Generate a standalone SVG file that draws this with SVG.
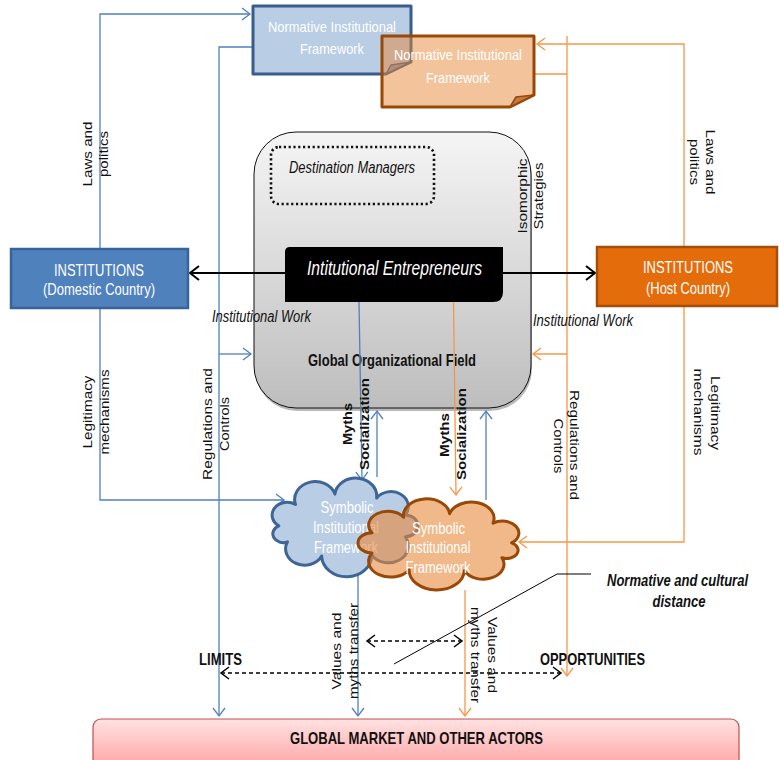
<svg xmlns="http://www.w3.org/2000/svg" width="779" height="760" viewBox="0 0 779 760">
<style>
.t{font-family:'Liberation Sans',Arial,Helvetica,sans-serif;fill:#111}
.w{fill:#fff}
.b{font-weight:bold}
.i{font-style:italic}
.r{font-size:12.5px}
.lb{stroke:#4f81bd;stroke-width:1.3;fill:none}
.lo{stroke:#f79646;stroke-width:1.3;fill:none}
.lk{stroke:#000;fill:none}
</style>
<defs>
<linearGradient id="gField" x1="0" y1="0" x2="0" y2="1"><stop offset="0" stop-color="#f5f5f5"/><stop offset="1" stop-color="#bdbdbd"/></linearGradient>
<linearGradient id="gMarket" x1="0" y1="0" x2="0" y2="1"><stop offset="0" stop-color="#ffe2e2"/><stop offset="1" stop-color="#ff9b9b"/></linearGradient>
<marker id="mb" markerUnits="userSpaceOnUse" markerWidth="12" markerHeight="14" refX="8" refY="6" orient="auto" overflow="visible"><path d="M0,0 L8,6 L0,12" fill="none" stroke="#4f81bd" stroke-width="1.3"/></marker>
<marker id="mo" markerUnits="userSpaceOnUse" markerWidth="12" markerHeight="14" refX="8" refY="6" orient="auto" overflow="visible"><path d="M0,0 L8,6 L0,12" fill="none" stroke="#f79646" stroke-width="1.3"/></marker>
<marker id="mk" markerUnits="userSpaceOnUse" markerWidth="12" markerHeight="14" refX="8" refY="6" orient="auto-start-reverse" overflow="visible"><path d="M0,0 L8,6 L0,12" fill="none" stroke="#000" stroke-width="1.5"/></marker>
<marker id="mk2" markerUnits="userSpaceOnUse" markerWidth="12" markerHeight="16" refX="9" refY="7" orient="auto-start-reverse" overflow="visible"><path d="M0,0 L9,7 L0,14" fill="none" stroke="#000" stroke-width="2"/></marker>
</defs>

<g id="org-field">
<rect x="255" y="135" width="277" height="276" rx="42" fill="#7f7f7f" opacity="0.55"/>
<rect x="254" y="132" width="277" height="276" rx="42" fill="url(#gField)" stroke="#111" stroke-width="1"/>
<text class="t b" x="392" y="366" font-size="17" text-anchor="middle" textLength="168" lengthAdjust="spacingAndGlyphs">Global Organizational Field</text>
</g>

<g id="dest-managers">
<rect x="271" y="147" width="163" height="57" rx="8" fill="none" stroke="#111" stroke-width="2.6" stroke-dasharray="2.2,2.6"/>
<text class="t i" x="352" y="173" font-size="16" text-anchor="middle" textLength="126" lengthAdjust="spacingAndGlyphs">Destination Managers</text>
</g>

<g id="connectors">
<polyline class="lb" points="100,248 100,14 250,14" marker-end="url(#mb)"/>
<polyline class="lb" points="253,47 219,47 219,716" marker-end="url(#mb)"/>
<line class="lb" x1="219" y1="354" x2="251" y2="354" marker-end="url(#mb)"/>
<polyline class="lb" points="100,309 100,500 284,500" marker-end="url(#mb)"/>
<line class="lb" x1="359" y1="302" x2="362" y2="480" marker-end="url(#mb)"/>
<line class="lb" x1="377" y1="477" x2="377" y2="411" marker-end="url(#mb)"/>
<line class="lb" x1="486" y1="500" x2="486" y2="411" marker-end="url(#mb)"/>
<line class="lb" x1="358" y1="575" x2="358" y2="716" marker-end="url(#mb)"/>
<polyline class="lo" points="684,246 684,44 537,44" marker-end="url(#mo)"/>
<line class="lo" x1="534" y1="74" x2="567" y2="74"/>
<line class="lo" x1="567" y1="36" x2="567" y2="676" marker-end="url(#mo)"/>
<line class="lo" x1="567" y1="354" x2="533" y2="354" marker-end="url(#mo)"/>
<polyline class="lo" points="684,307 684,542 519,542" marker-end="url(#mo)"/>
<line class="lo" x1="453.5" y1="302" x2="456" y2="495" marker-end="url(#mo)"/>
<line class="lo" x1="465" y1="590" x2="465" y2="716" marker-end="url(#mo)"/>
<line class="lk" x1="190" y1="273" x2="595" y2="273" stroke-width="2" marker-start="url(#mk2)" marker-end="url(#mk2)"/>
<line class="lk" x1="367" y1="641" x2="462" y2="641" stroke-width="1.5" stroke-dasharray="4,3" marker-start="url(#mk)" marker-end="url(#mk)"/>
<line class="lk" x1="221" y1="673" x2="561" y2="673" stroke-width="1.5" stroke-dasharray="4,3" marker-start="url(#mk)" marker-end="url(#mk)"/>
<polyline class="lk" points="394,664 557,574 591,574" stroke-width="1"/>
</g>

<g id="entrepreneurs">
<path d="M290,247 H503 V292 Q503,302 493,302 H285 V252 Q285,247 290,247 Z" fill="#000"/>
<text class="t w i" x="394.5" y="275" font-size="20" text-anchor="middle" textLength="175" lengthAdjust="spacingAndGlyphs">Intitutional Entrepreneurs</text>
</g>

<g id="norm-domestic">
<path d="M253,6 H411 V62 L386,74 H253 Z" fill="#b9cde5" stroke="#385d8a" stroke-width="3" stroke-linejoin="round"/>
<path d="M386,74 L391,65 L411,62 Z" fill="#7f97b8" stroke="#385d8a" stroke-width="1.5" stroke-linejoin="round"/>
<text class="t w" x="332" y="32" font-size="15" text-anchor="middle" textLength="128" lengthAdjust="spacingAndGlyphs">Normative Institutional</text>
<text class="t w" x="332" y="54" font-size="15" text-anchor="middle" textLength="64" lengthAdjust="spacingAndGlyphs">Framework</text>
</g>

<g id="norm-host">
<path d="M382,36 H534 V95 L510,107 H382 Z" fill="#e8883a" fill-opacity="0.5" stroke="#984807" stroke-width="3" stroke-linejoin="round"/>
<path d="M510,107 L516,97 L534,95 Z" fill="#c47a40" stroke="#984807" stroke-width="1.5" stroke-linejoin="round"/>
<text class="t w" x="458" y="60" font-size="15" text-anchor="middle" textLength="128" lengthAdjust="spacingAndGlyphs">Normative Institutional</text>
<text class="t w" x="458" y="83" font-size="15" text-anchor="middle" textLength="64" lengthAdjust="spacingAndGlyphs">Framework</text>
</g>

<g id="inst-domestic">
<rect x="11" y="249" width="177" height="59" fill="#4f81bd" stroke="#3a639a" stroke-width="2.5"/>
<text class="t w" x="99" y="276" font-size="16" text-anchor="middle" textLength="90" lengthAdjust="spacingAndGlyphs">INSTITUTIONS</text>
<text class="t w" x="99" y="295" font-size="16" text-anchor="middle" textLength="112" lengthAdjust="spacingAndGlyphs">(Domestic Country)</text>
</g>

<g id="inst-host">
<rect x="597" y="247" width="180" height="59" fill="#e46c0a" stroke="#a34f0b" stroke-width="2.5"/>
<text class="t w" x="688" y="273" font-size="16" text-anchor="middle" textLength="90" lengthAdjust="spacingAndGlyphs">INSTITUTIONS</text>
<text class="t w" x="688" y="294" font-size="16" text-anchor="middle" textLength="84" lengthAdjust="spacingAndGlyphs">(Host Country)</text>
</g>

<g id="sym-domestic">
<path transform="translate(344,525.8) scale(1.165,1)" vector-effect="non-scaling-stroke" d="M-56,0 A1,1 0 0 1 -41.6,-21.4 A1,1 0 0 1 -7.8,-31.7 A1,1 0 0 1 28,-27.7 A1,1 0 0 1 52.6,-10.9 A1,1 0 0 1 52.6,10.9 A1,1 0 0 1 23.7,29 A1,1 0 0 1 -19.2,30.1 A1,1 0 0 1 -48.5,16 A1,1 0 0 1 -56,0 Z" fill="#b9cde5" stroke="#3e6596" stroke-width="3" stroke-linejoin="round"/>
<text class="t w" x="347" y="513" font-size="16" text-anchor="middle" textLength="53" lengthAdjust="spacingAndGlyphs">Symbolic</text>
<text class="t w" x="346" y="533" font-size="16" text-anchor="middle" textLength="66" lengthAdjust="spacingAndGlyphs">Institutional</text>
<text class="t w" x="346" y="553" font-size="16" text-anchor="middle" textLength="64" lengthAdjust="spacingAndGlyphs">Framework</text>
</g>

<g id="sym-host">
<path transform="translate(439.6,542.9) scale(-1.285,0.923)" vector-effect="non-scaling-stroke" d="M-56,0 A1,1 0 0 1 -41.6,-21.4 A1,1 0 0 1 -7.8,-31.7 A1,1 0 0 1 28,-27.7 A1,1 0 0 1 52.6,-10.9 A1,1 0 0 1 52.6,10.9 A1,1 0 0 1 23.7,29 A1,1 0 0 1 -19.2,30.1 A1,1 0 0 1 -48.5,16 A1,1 0 0 1 -56,0 Z" fill="#e8883a" fill-opacity="0.6" stroke="#984807" stroke-width="3" stroke-linejoin="round"/>
<text class="t w" x="438.5" y="534" font-size="16" text-anchor="middle" textLength="53" lengthAdjust="spacingAndGlyphs">Symbolic</text>
<text class="t w" x="438" y="553" font-size="16" text-anchor="middle" textLength="65" lengthAdjust="spacingAndGlyphs">Institutional</text>
<text class="t w" x="438" y="573" font-size="16" text-anchor="middle" textLength="65" lengthAdjust="spacingAndGlyphs">Framework</text>
</g>

<g id="market">
<rect x="93" y="719" width="646" height="56" rx="8" fill="url(#gMarket)" stroke="#c0504d" stroke-width="1.2"/>
<text class="t b" x="416.5" y="744" font-size="17" text-anchor="middle" textLength="253" lengthAdjust="spacingAndGlyphs">GLOBAL MARKET AND OTHER ACTORS</text>
</g>

<g id="labels">
<text class="t r" transform="translate(92,154) rotate(-90)" text-anchor="middle" textLength="65" lengthAdjust="spacingAndGlyphs">Laws and</text>
<text class="t r" transform="translate(108,154) rotate(-90)" text-anchor="middle" textLength="46" lengthAdjust="spacingAndGlyphs">politics</text>
<text class="t r" transform="translate(92,412) rotate(-90)" text-anchor="middle" textLength="73" lengthAdjust="spacingAndGlyphs">Legitimacy</text>
<text class="t r" transform="translate(108.5,412) rotate(-90)" text-anchor="middle" textLength="85" lengthAdjust="spacingAndGlyphs">mechanisms</text>
<text class="t r" transform="translate(212,424) rotate(-90)" text-anchor="middle" textLength="112" lengthAdjust="spacingAndGlyphs">Regulations and</text>
<text class="t r" transform="translate(228.5,424) rotate(-90)" text-anchor="middle" textLength="54" lengthAdjust="spacingAndGlyphs">Controls</text>
<text class="t r" transform="translate(527,196) rotate(-90)" text-anchor="middle" textLength="75" lengthAdjust="spacingAndGlyphs">Isomorphic</text>
<text class="t r" transform="translate(543,196) rotate(-90)" text-anchor="middle" textLength="67" lengthAdjust="spacingAndGlyphs">Strategies</text>
<text class="t r b" transform="translate(352,424) rotate(-90)" text-anchor="middle" textLength="42" lengthAdjust="spacingAndGlyphs">Myths</text>
<text class="t r b" transform="translate(368.5,424) rotate(-90)" text-anchor="middle" textLength="92" lengthAdjust="spacingAndGlyphs">Socialization</text>
<text class="t r b" transform="translate(449,435) rotate(-90)" text-anchor="middle" textLength="44" lengthAdjust="spacingAndGlyphs">Myths</text>
<text class="t r b" transform="translate(465.5,434) rotate(-90)" text-anchor="middle" textLength="92" lengthAdjust="spacingAndGlyphs">Socialization</text>
<text class="t r" transform="translate(341,651) rotate(-90)" text-anchor="middle" textLength="77" lengthAdjust="spacingAndGlyphs">Values and</text>
<text class="t r" transform="translate(358,651) rotate(-90)" text-anchor="middle" textLength="96" lengthAdjust="spacingAndGlyphs">myths transfer</text>

<text class="t r" transform="translate(706,162) rotate(90)" text-anchor="middle" textLength="65" lengthAdjust="spacingAndGlyphs">Laws and</text>
<text class="t r" transform="translate(690,162) rotate(90)" text-anchor="middle" textLength="46" lengthAdjust="spacingAndGlyphs">politics</text>
<text class="t r" transform="translate(711,413) rotate(90)" text-anchor="middle" textLength="74" lengthAdjust="spacingAndGlyphs">Legitimacy</text>
<text class="t r" transform="translate(694,412) rotate(90)" text-anchor="middle" textLength="87" lengthAdjust="spacingAndGlyphs">mechanisms</text>
<text class="t r" transform="translate(570,445) rotate(90)" text-anchor="middle" textLength="110" lengthAdjust="spacingAndGlyphs">Regulations and</text>
<text class="t r" transform="translate(554,446) rotate(90)" text-anchor="middle" textLength="55" lengthAdjust="spacingAndGlyphs">Controls</text>
<text class="t r" transform="translate(488,655) rotate(90)" text-anchor="middle" textLength="76" lengthAdjust="spacingAndGlyphs">Values and</text>
<text class="t r" transform="translate(471,655) rotate(90)" text-anchor="middle" textLength="96" lengthAdjust="spacingAndGlyphs">myths transfer</text>

<text class="t i" x="212" y="322" font-size="16" textLength="99" lengthAdjust="spacingAndGlyphs">Institutional Work</text>
<text class="t i" x="533" y="326" font-size="16" textLength="100" lengthAdjust="spacingAndGlyphs">Institutional Work</text>
<text class="t b" x="199" y="665" font-size="17" textLength="43" lengthAdjust="spacingAndGlyphs">LIMITS</text>
<text class="t b" x="540" y="665" font-size="17" textLength="105" lengthAdjust="spacingAndGlyphs">OPPORTUNITIES</text>
<text class="t b i" x="677.5" y="586" font-size="16" text-anchor="middle" textLength="141" lengthAdjust="spacingAndGlyphs">Normative and cultural</text>
<text class="t b i" x="679" y="607" font-size="16" text-anchor="middle" textLength="53" lengthAdjust="spacingAndGlyphs">distance</text>
</g>
</svg>
